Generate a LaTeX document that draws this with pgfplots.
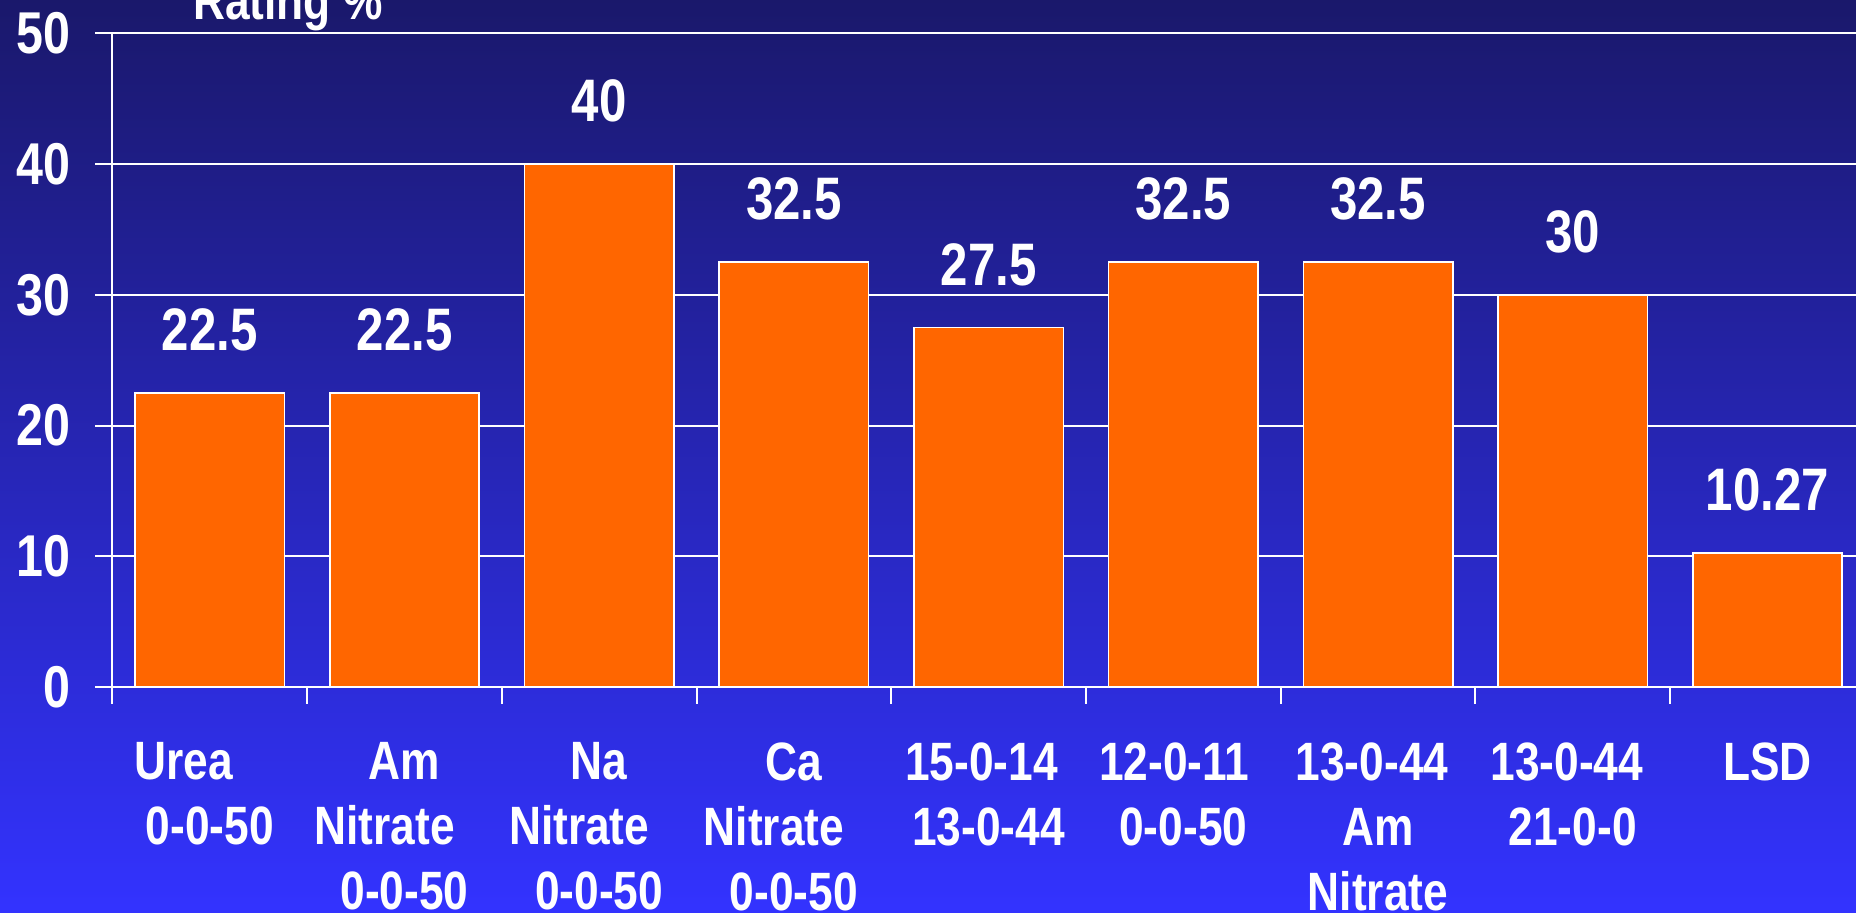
\documentclass[border=0pt]{standalone}
\usepackage{fontspec}
\setmainfont{Liberation Sans}[FakeStretch=0.82]
\usepackage{pgfplots}
\pgfplotsset{compat=1.18}
\definecolor{bgtop}{RGB}{26,24,107}
\definecolor{bgbot}{RGB}{51,51,255}
\definecolor{barorange}{RGB}{255,102,0}
\begin{document}
\begin{tikzpicture}
\shade[top color=bgtop, bottom color=bgbot] (-56.25pt,-113pt) rectangle (871.75pt,343.5pt);
\begin{axis}[
  at={(0pt,0pt)}, anchor=south west,
  scale only axis, width=871.75pt, height=326.75pt,
  xmin=-0.5, xmax=8.455, ymin=0, ymax=50,
  clip=false,
  ybar,
  axis lines*=left,
  axis line style={white, line width=1pt},
  tick align=outside,
  major tick length=8.5pt,
  tick style={white, line width=1pt},
  /pgf/number format/assume math mode=true,
  ytick={0,10,...,50},
  ymajorgrids, grid style={white, line width=1pt},
  yticklabel style={font=\fontsize{29.5}{36}\selectfont\bfseries, text=white, anchor=east, inner sep=0pt, xshift=-12.5pt},
  xtick={-0.5,0.5,...,7.5},
  xticklabels={},
  xticklabel style={font=\fontsize{27}{32.5}\selectfont\bfseries, text=white, anchor=north, inner sep=0pt, align=center, yshift=-27.5pt},
  extra x ticks={0,1,2,3,4,5,6,7,8},
  extra x tick labels={
    {\hbox{\kern-26pt Urea}\\0-0-50},
    {Am\\\hbox{\kern-20pt Nitrate}\\0-0-50},
    {Na\\\hbox{\kern-20pt Nitrate}\\0-0-50},
    {Ca\\\hbox{\kern-20pt Nitrate}\\0-0-50},
    {\hbox{\kern-7pt 15-0-14}\\13-0-44},
    {\hbox{\kern-9pt 12-0-11}\\0-0-50},
    {\hbox{\kern-6pt 13-0-44}\\Am\\Nitrate},
    {\hbox{\kern-6pt 13-0-44}\\21-0-0},
    {LSD}},
  extra x tick style={major tick length=0pt, grid=none},
  nodes near coords,
  every node near coord/.append style={font=\fontsize{30}{36}\selectfont\bfseries, text=white, anchor=south, inner sep=0pt, yshift=20.5pt},
]
\addplot[ybar, bar width=0.767, fill=barorange, draw=white, line width=0.8pt]
  coordinates {(0,22.5) (1,22.5) (2,40) (3,32.5) (4,27.5) (5,32.5) (6,32.5) (7,30) (8,10.27)};
\node[font=\fontsize{27}{32}\selectfont\bfseries, text=white, anchor=base, xshift=87.75pt, yshift=6.75pt] at (rel axis cs:0,1) {Rating \%};
\end{axis}
\pgfresetboundingbox
\useasboundingbox (-56.25pt,-113pt) rectangle (871.75pt,343.5pt);
\end{tikzpicture}
\end{document}
